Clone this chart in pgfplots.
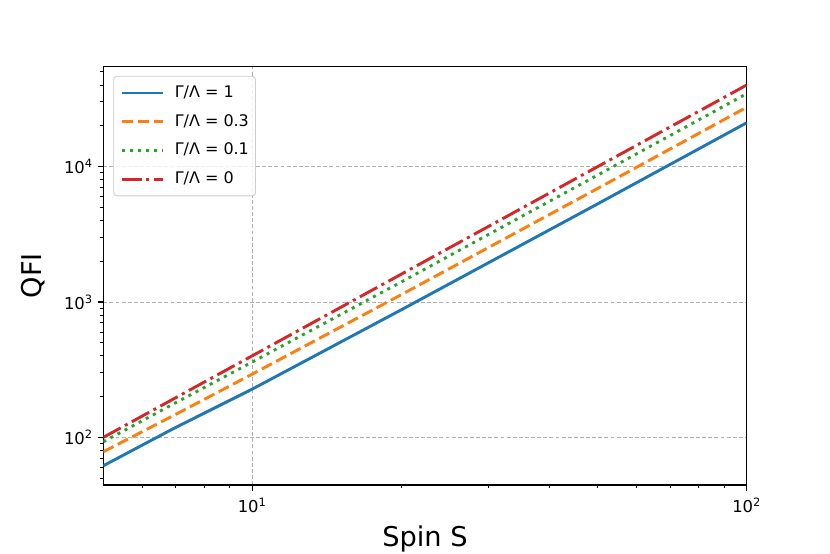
\documentclass[border=0pt]{standalone}
\usepackage{fontspec}
\setmainfont{DejaVu Sans}
\usepackage{pgfplots}
\pgfplotsset{compat=1.18}
\definecolor{tabblue}{HTML}{1F77B4}
\definecolor{taborange}{HTML}{FF7F0E}
\definecolor{tabgreen}{HTML}{2CA02C}
\definecolor{tabred}{HTML}{D62728}
\definecolor{gridgray}{HTML}{B0B0B0}
\definecolor{leggray}{HTML}{CCCCCC}
\begin{document}
\begin{tikzpicture}
\path[use as bounding box] (0,0) rectangle (597.6pt,398.88pt);
\begin{loglogaxis}[
  at={(74.4pt,49.7pt)}, anchor=south west,
  scale only axis, width=463.2pt, height=301.2pt,
  xmin=5, xmax=100, ymin=44.5, ymax=54700,
  axis line style={line width=0.92pt},
  tick align=outside, tick pos=left,
  major tick length=4pt, minor tick length=2.3pt,
  every major tick/.append style={line width=0.92pt, black},
  every minor tick/.append style={line width=0.69pt, black},
  xtick={10,100}, xticklabels={10\textsuperscript{1},10\textsuperscript{2}},
  ytick={100,1000,10000}, yticklabels={10\textsuperscript{2},10\textsuperscript{3},10\textsuperscript{4}},
  minor xtick={6,7,8,9,20,30,40,50,60,70,80,90},
  minor ytick={50,60,70,80,90,200,300,400,500,600,700,800,900,2000,3000,4000,5000,6000,7000,8000,9000,20000,30000,40000,50000},
  ticklabel style={font=\fontsize{11.8}{13}\selectfont},
  xticklabel style={anchor=base, yshift=-16pt},
  yticklabel style={anchor=east},
  major grid style={gridgray, line width=0.6pt, dash pattern=on 2.8pt off 1.6pt},
  xmajorgrids, ymajorgrids,
  xlabel={Spin S}, ylabel={QFI},
  label style={font=\fontsize{19.6}{22}\selectfont},
  xlabel style={at={(axis description cs:0.5,-0.1475)}, anchor=base},
  ylabel style={at={(axis description cs:-0.0957,0.5)}, anchor=base},
  legend style={at={(axis description cs:0.0155,0.9778)}, anchor=north west,
    draw=leggray, line width=0.6pt, rounded corners=2.5pt, fill=white, fill opacity=0.8, text opacity=1,
    inner xsep=4.8pt, inner ysep=6.8pt, row sep=10.3pt,
    font=\fontsize{11.5}{13}\selectfont,
    nodes={inner sep=0pt, text height=8.4pt, text depth=2pt}},
  legend cell align=left,
  legend image code/.code={\draw[#1] (0pt,0pt) -- (29.5pt,0pt); \draw[draw=none, fill=none, dash pattern=] (0pt,0pt) -- (38.1pt,0pt);},
]
\addplot[tabblue, line width=2.1pt] coordinates {(5,61.7) (7,118.3) (10,227) (20,873) (50,5310) (100,21050)};
\addlegendentry{Γ/Λ = 1}
\addplot[taborange, line width=2.1pt, dash pattern=on 8.2pt off 3.5pt] coordinates {(5,78.3) (7,147.6) (10,293) (20,1129) (50,6901) (100,27400)};
\addlegendentry{Γ/Λ = 0.3}
\addplot[tabgreen, line width=2.1pt, dash pattern=on 2.2pt off 3.6pt] coordinates {(5,92.8) (7,180) (10,360) (20,1402) (50,8660) (100,34500)};
\addlegendentry{Γ/Λ = 0.1}
\addplot[tabred, line width=2.1pt, dash pattern=on 14.2pt off 3.5pt on 2.2pt off 3.5pt] coordinates {(5,100) (7,196) (10,400) (20,1600) (50,10000) (100,40000)};
\addlegendentry{Γ/Λ = 0}
\end{loglogaxis}
\end{tikzpicture}
\end{document}
